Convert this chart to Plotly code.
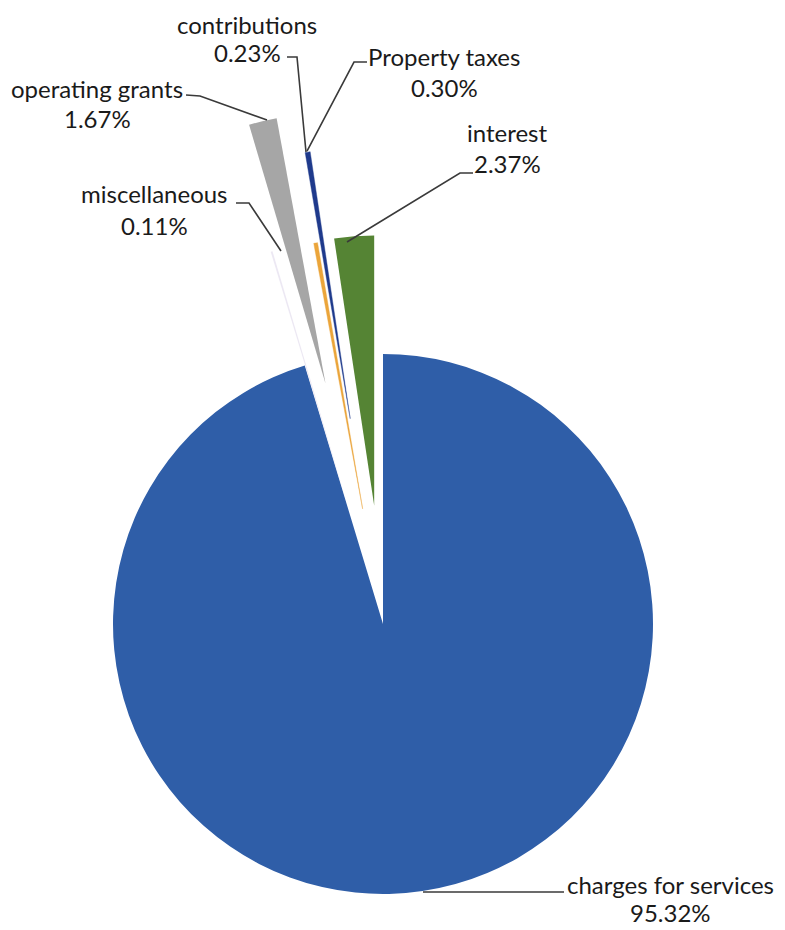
import math
import plotly.graph_objects as go

# ---- data (clockwise from 12 o'clock) ----
labels = ["charges for services", "miscellaneous", "operating grants",
          "contributions", "Property taxes", "interest"]
values = [95.32, 0.11, 1.67, 0.23, 0.30, 2.37]
colors = ["#2F5EA8", "#ECE8F3", "#A6A6A6", "#EBA53A", "#1F3A8C", "#558434"]
pulls = [0.0, 0.44, 0.915, 0.433, 0.77, 0.44]
outline = [0, 0, 0, 0.4, 0.4, 0]

# ---- layout geometry (screen pixels; page body has an 8px margin) ----
OFF = 8
W, H = 785 - OFF, 930 - OFF
CX, CY, R = 383, 624, 270  # screen-pixel centre / radius of the main pie


def fx(px):
    return (px - OFF) / W


def fy(py):
    return 1 - (py - OFF) / H


fig = go.Figure()
total = sum(values)
cum = 0.0
for i, (lab, v) in enumerate(zip(labels, values)):
    mid = (cum + v / 2) / total * 2 * math.pi  # clockwise from north
    cum += v
    d = pulls[i] * R
    cx = CX + d * math.sin(mid)
    cy = CY - d * math.cos(mid)
    slice_colors = [c if j == i else "rgba(0,0,0,0)" for j, c in enumerate(colors)]
    line_w = [outline[i] if j == i else 0 for j in range(len(values))]
    fig.add_trace(go.Pie(
        labels=labels, values=values, sort=False, direction="clockwise",
        rotation=0, textinfo="none", hoverinfo="label+percent",
        marker=dict(colors=slice_colors, line=dict(width=line_w, color=slice_colors)),
        domain=dict(x=[fx(cx - R), fx(cx + R)], y=[fy(cy + R), fy(cy - R)]),
        showlegend=False, name=lab,
    ))

# label positions (screen-pixel centres of the two text lines)
label_pos = {
    "charges for services": (670, 884, 912),
    "miscellaneous": (154, 194, 225),
    "operating grants": (97, 88, 119),
    "contributions": (247, 24, 52),
    "Property taxes": (444, 57, 87),
    "interest": (507, 132, 163),
}
FONT = dict(family="Lato, Open Sans, sans-serif", size=24, color="#1a1a1a")
annotations = []
for lab, v in zip(labels, values):
    x, y1, y2 = label_pos[lab]
    for txt, yy in ((lab, y1), (f"{v:.2f}%", y2)):
        annotations.append(dict(text=txt, x=fx(x), y=fy(yy), xref="paper",
                                yref="paper", xanchor="center", yanchor="middle",
                                showarrow=False, font=FONT))

leaders = [
    [(287, 57), (297, 57), (306, 152)],
    [(367, 62), (354, 62), (307, 151)],
    [(186, 95), (200, 96), (267, 120)],
    [(236, 203), (249, 203), (281, 251)],
    [(473, 173), (460, 173), (347, 242)],
    [(423, 892), (564, 892)],
]
shapes = []
for pts in leaders:
    path = "M " + " L ".join(f"{fx(px):.5f},{fy(py):.5f}" for px, py in pts)
    shapes.append(dict(type="path", path=path, xref="paper", yref="paper",
                       line=dict(color="#3a3a3a", width=1.6)))

fig.update_layout(width=W, height=H, margin=dict(l=0, r=0, t=0, b=0),
                  paper_bgcolor="white", plot_bgcolor="white",
                  annotations=annotations, shapes=shapes)
fig.write_html("out.html")
